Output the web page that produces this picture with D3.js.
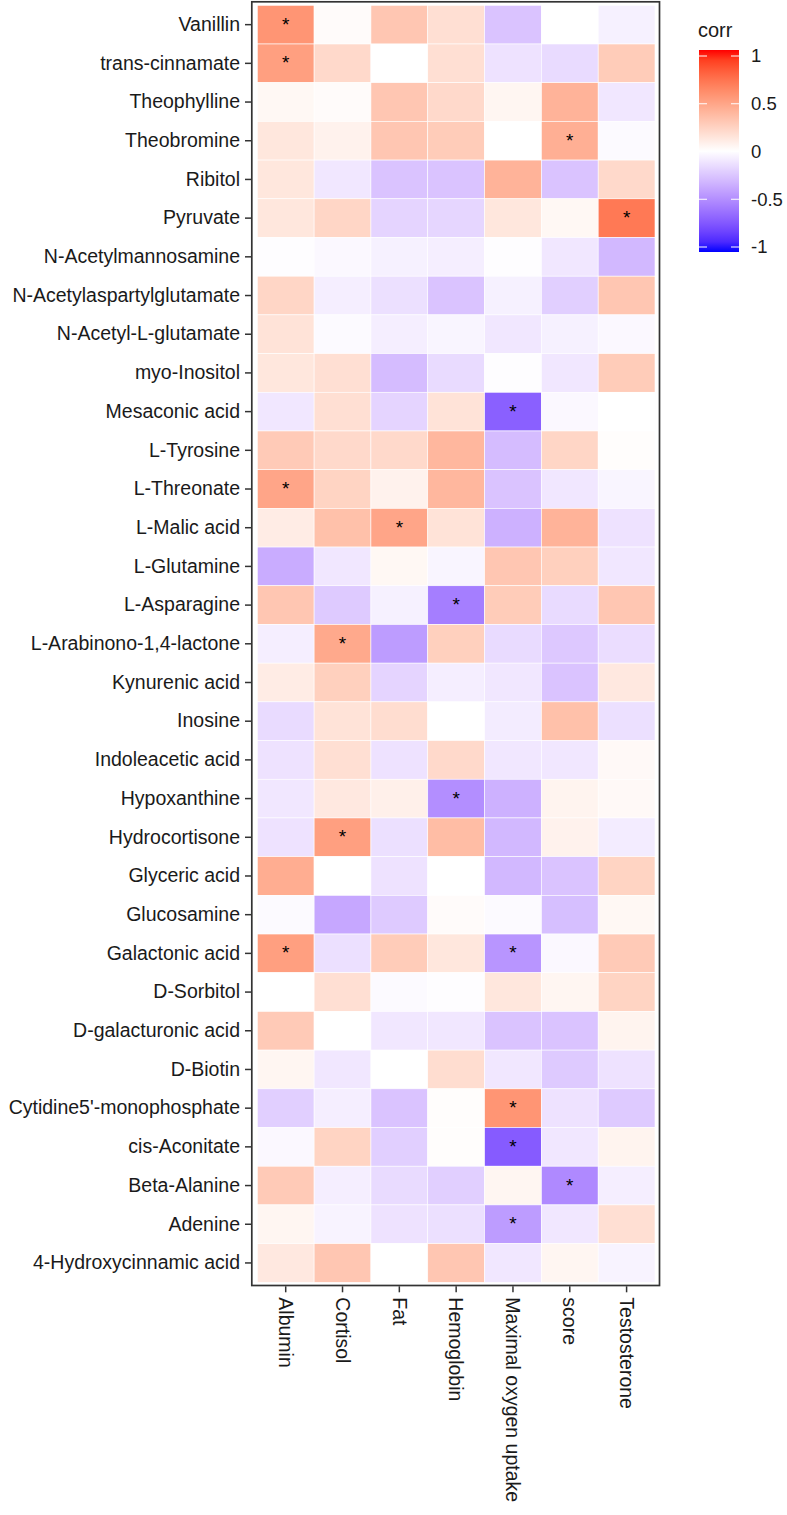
<!DOCTYPE html>
<html>
<head>
<meta charset="utf-8">
<script src="https://cdn.jsdelivr.net/npm/d3@7"></script>
<style>
  html, body { margin: 0; padding: 0; background: #ffffff; }
  svg { display: block; }
  text { font-family: "Liberation Sans", Arial, sans-serif; }
</style>
</head>
<body>
<svg id="chart" width="787" height="1515"></svg>
<script>
// ---- data ----
const metabolites = [
  "Vanillin", "trans-cinnamate", "Theophylline", "Theobromine", "Ribitol", "Pyruvate",
  "N-Acetylmannosamine", "N-Acetylaspartylglutamate", "N-Acetyl-L-glutamate", "myo-Inositol",
  "Mesaconic acid", "L-Tyrosine", "L-Threonate", "L-Malic acid", "L-Glutamine", "L-Asparagine",
  "L-Arabinono-1,4-lactone", "Kynurenic acid", "Inosine", "Indoleacetic acid", "Hypoxanthine",
  "Hydrocortisone", "Glyceric acid", "Glucosamine", "Galactonic acid", "D-Sorbitol",
  "D-galacturonic acid", "D-Biotin", "Cytidine5'-monophosphate", "cis-Aconitate",
  "Beta-Alanine", "Adenine", "4-Hydroxycinnamic acid"
];
const traits = ["Albumin", "Cortisol", "Fat", "Hemoglobin", "Maximal oxygen uptake", "score", "Testosterone"];

// correlation values, one row per metabolite, columns in trait order
const corrAlbumin      = [0.55, 0.50, 0.04, 0.13, 0.13, 0.13, -0.01, 0.22, 0.15, 0.13, -0.10, 0.28, 0.47, 0.10, -0.35, 0.30, -0.07, 0.10, -0.15, -0.12, -0.10, -0.12, 0.43, -0.02, 0.50, 0.00, 0.28, 0.05, -0.20, -0.03, 0.28, 0.05, 0.12];
const corrCortisol     = [0.02, 0.20, 0.02, 0.07, -0.10, 0.22, -0.03, -0.07, -0.02, 0.17, 0.17, 0.20, 0.23, 0.33, -0.10, -0.22, 0.45, 0.25, 0.15, 0.17, 0.12, 0.50, 0.00, -0.37, -0.13, 0.17, 0.00, -0.10, -0.07, 0.23, -0.07, -0.05, 0.30];
const corrFat          = [0.30, 0.00, 0.30, 0.30, -0.25, -0.18, -0.06, -0.13, -0.07, -0.28, -0.18, 0.20, 0.07, 0.47, 0.04, -0.06, -0.42, -0.18, 0.18, -0.12, 0.08, -0.13, -0.12, -0.22, 0.27, -0.02, -0.10, 0.00, -0.25, -0.20, -0.15, -0.12, 0.00];
const corrHemoglobin   = [0.17, 0.17, 0.20, 0.27, -0.25, -0.17, -0.07, -0.25, -0.04, -0.15, 0.15, 0.38, 0.38, 0.15, -0.04, -0.55, 0.25, -0.07, 0.00, 0.20, -0.48, 0.35, 0.00, 0.02, 0.13, -0.01, -0.10, 0.18, 0.01, 0.01, -0.20, -0.13, 0.30];
const corrMaxO2        = [-0.25, -0.12, 0.05, 0.00, 0.40, 0.13, -0.01, -0.06, -0.10, -0.01, -0.68, -0.28, -0.25, -0.33, 0.30, 0.27, -0.15, -0.10, -0.08, -0.10, -0.33, -0.30, -0.30, -0.02, -0.45, 0.13, -0.25, -0.10, 0.55, -0.70, 0.05, -0.42, -0.10];
const corrScore        = [0.00, -0.15, 0.40, 0.42, -0.25, 0.04, -0.10, -0.20, -0.06, -0.10, -0.03, 0.22, -0.10, 0.40, 0.25, -0.15, -0.23, -0.25, 0.33, -0.10, 0.06, 0.07, -0.25, -0.27, -0.03, 0.05, -0.25, -0.22, -0.12, -0.10, -0.50, -0.10, 0.05];
const corrTestosterone = [-0.06, 0.27, -0.10, -0.02, 0.20, 0.68, -0.30, 0.30, -0.03, 0.27, 0.00, 0.01, -0.04, -0.12, -0.10, 0.30, -0.14, 0.12, -0.13, 0.03, 0.03, -0.08, 0.23, 0.04, 0.28, 0.23, 0.06, -0.12, -0.22, 0.06, -0.07, 0.17, -0.05];

// significance marks: [metabolite, trait]
const significant = [
  ["Vanillin", "Albumin"], ["trans-cinnamate", "Albumin"], ["Theobromine", "score"],
  ["Pyruvate", "Testosterone"], ["Mesaconic acid", "Maximal oxygen uptake"],
  ["L-Threonate", "Albumin"], ["L-Malic acid", "Fat"], ["L-Asparagine", "Hemoglobin"],
  ["L-Arabinono-1,4-lactone", "Cortisol"], ["Hypoxanthine", "Hemoglobin"],
  ["Hydrocortisone", "Cortisol"], ["Galactonic acid", "Albumin"],
  ["Galactonic acid", "Maximal oxygen uptake"], ["Cytidine5'-monophosphate", "Maximal oxygen uptake"],
  ["cis-Aconitate", "Maximal oxygen uptake"], ["Beta-Alanine", "score"],
  ["Adenine", "Maximal oxygen uptake"]
];
const legendTicks = [1, 0.5, 0, -0.5, -1];
const legendTickLabels = ["1", "0.5", "0", "-0.5", "-1"];

// ---- build table ----
const columns = [corrAlbumin, corrCortisol, corrFat, corrHemoglobin, corrMaxO2, corrScore, corrTestosterone];
const cells = [];
metabolites.forEach((m, i) => {
  traits.forEach((t, j) => cells.push({ m, t, v: columns[j][i] }));
});
const sigSet = new Set(significant.map(d => d[0] + "|" + d[1]));

// ---- scales ----
const svg = d3.select("#chart");
const x = d3.scaleBand().domain(traits).range([257.3, 655]).padding(0);
const y = d3.scaleBand().domain(metabolites).range([5.3, 1282.3]).padding(0);
const color = d3.scaleLinear().domain([-1, 0, 1]).range(["#0000ff", "#ffffff", "#ff0000"]).interpolate(d3.interpolateLab);

// tiles
svg.append("g").selectAll("rect").data(cells).join("rect")
  .attr("x", d => x(d.t)).attr("y", d => y(d.m))
  .attr("width", x.bandwidth()).attr("height", y.bandwidth())
  .attr("fill", d => color(d.v))
  .attr("stroke", "#ffffff").attr("stroke-width", 0.6);

// stars
svg.append("g").selectAll("text").data(cells.filter(d => sigSet.has(d.m + "|" + d.t))).join("text")
  .attr("x", d => x(d.t) + x.bandwidth() / 2)
  .attr("y", d => y(d.m) + y.bandwidth() / 2 + 6)
  .attr("text-anchor", "middle")
  .attr("font-size", 19).attr("fill", "#000")
  .text("*");

// panel border
svg.append("rect").attr("x", 251.8).attr("y", 1.8).attr("width", 407.7).attr("height", 1283.7)
  .attr("fill", "none").attr("stroke", "#333333").attr("stroke-width", 1.7);

// y axis
const yAxis = svg.append("g").attr("transform", "translate(251,0)")
  .call(d3.axisLeft(y).tickSize(6).tickPadding(5));
yAxis.select(".domain").remove();
yAxis.selectAll(".tick line").attr("stroke", "#333333").attr("stroke-width", 1.5);
yAxis.selectAll(".tick text").attr("font-size", 19.5).attr("fill", "#1a1a1a")
  .attr("font-family", "'Liberation Sans', Arial, sans-serif");

// x axis
const xAxis = svg.append("g").attr("transform", "translate(0,1286.3)")
  .call(d3.axisBottom(x).tickSize(6).tickPadding(5));
xAxis.select(".domain").remove();
xAxis.selectAll(".tick line").attr("stroke", "#333333").attr("stroke-width", 1.5);
xAxis.selectAll(".tick text")
  .attr("font-size", 19.5).attr("fill", "#1a1a1a")
  .attr("font-family", "'Liberation Sans', Arial, sans-serif")
  .attr("transform", "rotate(90)")
  .attr("x", 11).attr("y", 0).attr("dy", "0.35em")
  .attr("text-anchor", "start");

// legend
const lg = svg.append("g");
lg.append("text").attr("x", 698).attr("y", 37).attr("font-size", 20).attr("fill", "#1a1a1a").text("corr");
const defs = svg.append("defs");
const grad = defs.append("linearGradient").attr("id", "cbar").attr("x1", 0).attr("y1", 1).attr("x2", 0).attr("y2", 0);
d3.range(0, 1.0001, 0.05).forEach(t => {
  grad.append("stop").attr("offset", t).attr("stop-color", color(-1 + 2 * t));
});
const barTop = 50, barBottom = 252;
const ly = d3.scaleLinear().domain([-1, 1]).range([247, 56]);
lg.append("rect").attr("x", 699).attr("y", barTop).attr("width", 40).attr("height", barBottom - barTop)
  .attr("fill", "url(#cbar)");
const lt = lg.append("g").selectAll("g").data(legendTicks).join("g");
lt.append("line").attr("x1", 699).attr("x2", 707).attr("y1", d => ly(d)).attr("y2", d => ly(d))
  .attr("stroke", "#ffffff").attr("stroke-width", 1);
lt.append("line").attr("x1", 731).attr("x2", 739).attr("y1", d => ly(d)).attr("y2", d => ly(d))
  .attr("stroke", "#ffffff").attr("stroke-width", 1);
lt.append("text").attr("x", 751).attr("y", d => ly(d)).attr("dy", "0.35em")
  .attr("font-size", 18.5).attr("fill", "#1a1a1a").text((d, i) => legendTickLabels[i]);
</script>
</body>
</html>
